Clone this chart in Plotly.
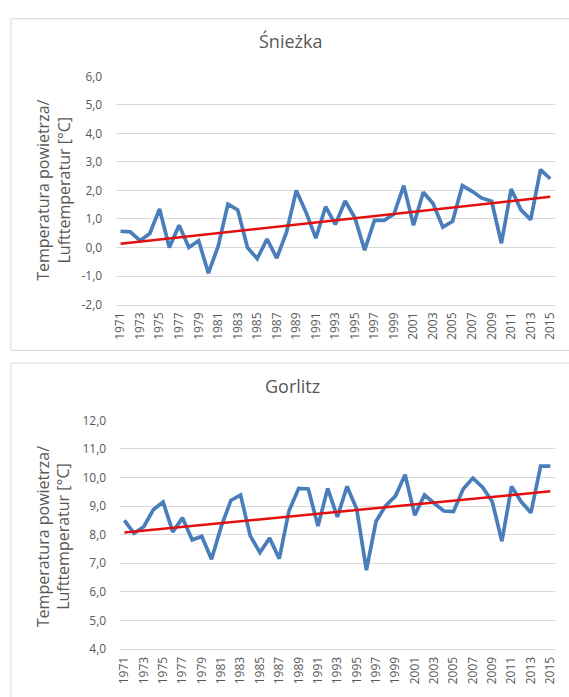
import numpy as np
import plotly.graph_objects as go

# ---------------- data ----------------
years = list(range(1971, 2016))

sniezka_temp = [0.57, 0.55, 0.24, 0.49, 1.35, 0.00, 0.78, 0.00, 0.24, -0.90,
                0.05, 1.52, 1.32, 0.00, -0.39, 0.30, -0.37, 0.54, 2.00, 1.23,
                0.33, 1.43, 0.81, 1.63, 1.04, -0.09, 0.95, 0.95, 1.17, 2.17,
                0.78, 1.94, 1.54, 0.72, 0.92, 2.17, 1.97, 1.73, 1.62, 0.15,
                2.05, 1.32, 0.98, 2.73, 2.41]

gorlitz_temp = [8.50, 8.05, 8.28, 8.88, 9.14, 8.10, 8.59, 7.82, 7.94, 7.14,
                8.28, 9.20, 9.39, 7.96, 7.38, 7.88, 7.16, 8.83, 9.62, 9.60,
                8.30, 9.62, 8.62, 9.69, 8.90, 6.76, 8.47, 9.02, 9.35, 10.10,
                8.68, 9.39, 9.10, 8.83, 8.81, 9.60, 9.98, 9.66, 9.16, 7.77,
                9.69, 9.15, 8.77, 10.40, 10.40]

tick_years = list(range(1971, 2016, 2))
sniezka_yticks = [-2, -1, 0, 1, 2, 3, 4, 5, 6]
gorlitz_yticks = [4, 5, 6, 7, 8, 9, 10, 11, 12]

titles = ["Śnieżka", "Gorlitz"]
y_title = "Temperatura powietrza/<br>Lufttemperatur [°C]"

# ---------------- layout helpers ----------------
W, H = 569, 697


def px(x):
    return x / W


def py(y):
    return 1 - y / H


BLUE = "#4a7ebb"
RED = "#e3100f"
GRID = "#d9d9d9"
TXT = "#595959"
FONT = "Open Sans"


def fmt(v):
    return f"{v:.1f}".replace(".", ",")


fig = go.Figure()

panels = [
    dict(vals=sniezka_temp, yt=sniezka_yticks, xa="x", ya="y",
         xdom=(113, 558), ydom=(303, 69)),
    dict(vals=gorlitz_temp, yt=gorlitz_yticks, xa="x2", ya="y2",
         xdom=(117, 558), ydom=(656, 421.7)),
]

for p in panels:
    fig.add_trace(go.Scatter(x=years, y=p["vals"], mode="lines",
                             line=dict(color=BLUE, width=3.7),
                             xaxis=p["xa"], yaxis=p["ya"], showlegend=False,
                             hoverinfo="x+y"))
    slope, icpt = np.polyfit(years, p["vals"], 1)
    trend = [slope * yr + icpt for yr in years]
    fig.add_trace(go.Scatter(x=years, y=trend, mode="lines",
                             line=dict(color=RED, width=2.5),
                             xaxis=p["xa"], yaxis=p["ya"], showlegend=False,
                             hoverinfo="skip"))

layout_axes = {}
for i, p in enumerate(panels):
    xk = "xaxis" if i == 0 else "xaxis2"
    yk = "yaxis" if i == 0 else "yaxis2"
    layout_axes[xk] = dict(
        domain=[px(p["xdom"][0]), px(p["xdom"][1])],
        anchor=p["ya"],
        range=[1970.5, 2015.5],
        tickmode="array", tickvals=tick_years,
        ticktext=[str(t) for t in tick_years],
        tickangle=-90,
        tickfont=dict(family=FONT, size=12, color=TXT),
        showgrid=False, zeroline=False,
        showline=True, linecolor=GRID, linewidth=1,
        ticks="outside", ticklen=2, tickcolor="rgba(0,0,0,0)",
        fixedrange=True,
    )
    layout_axes[yk] = dict(
        domain=[py(p["ydom"][0]), py(p["ydom"][1])],
        anchor=p["xa"],
        range=[p["yt"][0], p["yt"][-1]],
        tickmode="array", tickvals=p["yt"],
        ticktext=[fmt(v) for v in p["yt"]],
        tickfont=dict(family=FONT, size=12, color=TXT),
        showgrid=True, gridcolor=GRID, gridwidth=1,
        zeroline=False, showline=False,
        ticks="outside", ticklen=10, tickcolor="rgba(0,0,0,0)",
        fixedrange=True,
    )

annotations = [
    dict(text=titles[0], x=px(290), y=py(33), xref="paper", yref="paper",
         showarrow=False, xanchor="center", yanchor="middle",
         font=dict(family=FONT, size=18, color=TXT)),
    dict(text=titles[1], x=px(292), y=py(386), xref="paper", yref="paper",
         showarrow=False, xanchor="center", yanchor="middle",
         font=dict(family=FONT, size=18, color=TXT)),
    dict(text=y_title, x=px(50), y=py(186), xref="paper", yref="paper",
         showarrow=False, xanchor="center", yanchor="middle", textangle=-90,
         font=dict(family=FONT, size=16, color=TXT)),
    dict(text=y_title, x=px(50), y=py(541), xref="paper", yref="paper",
         showarrow=False, xanchor="center", yanchor="middle", textangle=-90,
         font=dict(family=FONT, size=16, color=TXT)),
]

shapes = [
    dict(type="rect", xref="paper", yref="paper",
         x0=px(7), x1=px(620), y0=py(350), y1=py(10),
         line=dict(color=GRID, width=1), fillcolor="rgba(0,0,0,0)", layer="below"),
    dict(type="rect", xref="paper", yref="paper",
         x0=px(7), x1=px(620), y0=py(740), y1=py(363),
         line=dict(color=GRID, width=1), fillcolor="rgba(0,0,0,0)", layer="below"),
]

fig.update_layout(
    width=W, height=H, autosize=False,
    margin=dict(l=0, r=0, t=0, b=0),
    paper_bgcolor="white", plot_bgcolor="white",
    font=dict(family=FONT, color=TXT),
    annotations=annotations, shapes=shapes,
    showlegend=False,
    **layout_axes,
)

fig.write_html(
    "out.html",
    config={"displayModeBar": False},
    post_script="document.body.style.margin='0';document.body.style.padding='0';"
                "document.body.style.overflow='hidden';",
)
